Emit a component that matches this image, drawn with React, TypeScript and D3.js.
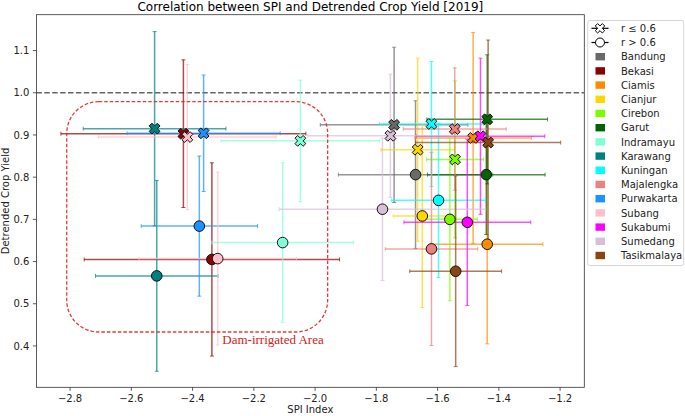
import React from "react";
import * as d3 from "d3";

const regions = ["Bandung", "Bekasi", "Ciamis", "Cianjur", "Cirebon", "Garut", "Indramayu", "Karawang", "Kuningan", "Majalengka", "Purwakarta", "Subang", "Sukabumi", "Sumedang", "Tasikmalaya"];
const regionColors = ["#696969", "#8b0000", "#ff8c00", "#ffd700", "#7cfc00", "#006400", "#7fffd4", "#008080", "#00ffff", "#f08080", "#1e90ff", "#ffc0cb", "#ff00ff", "#d8bfd8", "#8b4513"];

// r <= 0.6 points (X markers)
const lowX = [-1.742, -2.430, -1.484, -1.665, -1.543, -1.438, -2.048, -2.524, -1.620, -1.544, -2.364, -2.417, -1.460, -1.754, -1.435];
const lowY = [0.924, 0.903, 0.893, 0.865, 0.842, 0.937, 0.886, 0.915, 0.926, 0.914, 0.904, 0.895, 0.897, 0.898, 0.882];
const lowXErr = [0.241, 0.400, 0.190, 0.120, 0.093, 0.197, 0.259, 0.233, 0.170, 0.168, 0.250, 0.290, 0.210, 0.270, 0.237];
const lowYErr = [0.184, 0.175, 0.250, 0.217, 0.186, 0.153, 0.144, 0.230, 0.148, 0.145, 0.138, 0.172, 0.185, 0.146, 0.243];

// r > 0.6 points (circle markers)
const highX = [-1.672, -2.337, -1.438, -1.650, -1.560, -1.441, -2.106, -2.517, -1.597, -1.620, -2.378, -2.318, -1.503, -1.780, -1.541];
const highY = [0.806, 0.605, 0.641, 0.708, 0.700, 0.806, 0.645, 0.566, 0.745, 0.630, 0.684, 0.607, 0.693, 0.724, 0.577];
const highXErr = [0.252, 0.417, 0.182, 0.095, 0.090, 0.192, 0.231, 0.200, 0.154, 0.151, 0.190, 0.257, 0.207, 0.337, 0.150];
const highYErr = [0.175, 0.229, 0.236, 0.217, 0.193, 0.142, 0.189, 0.226, 0.183, 0.229, 0.166, 0.205, 0.197, 0.169, 0.226];

const xTicks = [-2.8, -2.6, -2.4, -2.2, -2.0, -1.8, -1.6, -1.4, -1.2];
const yTicks = [0.4, 0.5, 0.6, 0.7, 0.8, 0.9, 1.0, 1.1];

const title = "Correlation between SPI and Detrended Crop Yield [2019]";
const xLabel = "SPI Index";
const yLabel = "Detrended Crop Yield";
const legendMarkerLabels = ["r \u2264 0.6", "r > 0.6"];
const boxLabel = "Dam-irrigated Area";
const boxX = [-2.811, -1.959];
const boxY = [0.433, 0.979];
const boxLabelPos = [-2.303, 0.405];
const refLine = 1.0;

const X_DOMAIN = [-2.91, -1.121];
const Y_DOMAIN = [0.302, 1.185];
const PLOT = { left: 36.4, right: 584.3, top: 14.7, bottom: 387.3 };
const FONT = "DejaVu Sans, sans-serif";

function xPath(s: number) {
  const pts = [[-1, -3], [-1, -1], [-3, -1], [-3, 1], [-1, 1], [-1, 3], [1, 3], [1, 1], [3, 1], [3, -1], [1, -1], [1, -3]];
  const c = Math.cos(Math.PI / 4), sn = Math.sin(Math.PI / 4);
  const p = d3.path();
  pts.forEach(([a, b], i) => {
    const x = (a * c - b * sn) * s / 6;
    const y = (a * sn + b * c) * s / 6;
    if (i === 0) p.moveTo(x, y); else p.lineTo(x, y);
  });
  p.closePath();
  return p.toString();
}

export default function App() {
  const xs = d3.scaleLinear().domain(X_DOMAIN).range([PLOT.left, PLOT.right]);
  const ys = d3.scaleLinear().domain(Y_DOMAIN).range([PLOT.bottom, PLOT.top]);
  const fmt = d3.format(".1f");
  const cap = 2;
  const markerX = xPath(11.5);
  const legendX = xPath(10);

  const errBars = (px: number, py: number, ex: number, ey: number, color: string, key: string) => {
    const cx = xs(px), cy = ys(py);
    const x0 = xs(px - ex), x1 = xs(px + ex);
    const y0 = ys(py - ey), y1 = ys(py + ey);
    return (
      <g key={key} stroke={color} strokeOpacity={0.7} strokeWidth={1.5} fill="none">
        <line x1={x0} x2={x1} y1={cy} y2={cy} />
        <line x1={cx} x2={cx} y1={y0} y2={y1} />
        <line x1={x0} x2={x0} y1={cy - cap} y2={cy + cap} strokeWidth={1} />
        <line x1={x1} x2={x1} y1={cy - cap} y2={cy + cap} strokeWidth={1} />
        <line x1={cx - cap} x2={cx + cap} y1={y0} y2={y0} strokeWidth={1} />
        <line x1={cx - cap} x2={cx + cap} y1={y1} y2={y1} strokeWidth={1} />
      </g>
    );
  };

  const legTop = 28.3;
  const legStep = 14.2;

  return (
    <div style={{ position: "fixed", left: 0, top: 0 }}>
      <svg width={685} height={416} style={{ display: "block", background: "white" }}>
        <defs>
          <clipPath id="plotclip">
            <rect x={PLOT.left} y={PLOT.top} width={PLOT.right - PLOT.left} height={PLOT.bottom - PLOT.top} />
          </clipPath>
        </defs>
        <text x={(PLOT.left + PLOT.right) / 2} y={10.5} textAnchor="middle" fontFamily={FONT} fontSize={12}>{title}</text>
        <g clipPath="url(#plotclip)">
          <line x1={PLOT.left} x2={PLOT.right} y1={ys(refLine)} y2={ys(refLine)} stroke="#666" strokeWidth={1.5} strokeDasharray="5.5,2.4" />
          {regions.map((r, i) => (
            <g key={r}>
              {errBars(lowX[i], lowY[i], lowXErr[i], lowYErr[i], regionColors[i], "l")}
              {errBars(highX[i], highY[i], highXErr[i], highYErr[i], regionColors[i], "h")}
            </g>
          ))}
          <rect x={xs(boxX[0])} y={ys(boxY[1])} width={xs(boxX[1]) - xs(boxX[0])} height={ys(boxY[0]) - ys(boxY[1])}
            rx={32} ry={32} fill="none" stroke="#e8241f" strokeOpacity={0.9} strokeWidth={1.3} strokeDasharray="3.5,2" />
          {regions.map((r, i) => (
            <g key={r + "m"}>
              <path d={markerX} transform={`translate(${xs(lowX[i])},${ys(lowY[i])})`} fill={regionColors[i]} stroke="#111" strokeWidth={1} />
              <circle cx={xs(highX[i])} cy={ys(highY[i])} r={5.3} fill={regionColors[i]} stroke="#111" strokeWidth={1} />
            </g>
          ))}
          <text x={xs(boxLabelPos[0])} y={ys(boxLabelPos[1])} fontFamily="Liberation Serif, Times New Roman, serif" fontSize={13} fill="#d62020">{boxLabel}</text>
        </g>
        <rect x={PLOT.left} y={PLOT.top} width={PLOT.right - PLOT.left} height={PLOT.bottom - PLOT.top} fill="none" stroke="#333" strokeWidth={0.8} />
        {xTicks.map((t) => (
          <g key={"xt" + t}>
            <line x1={xs(t)} x2={xs(t)} y1={PLOT.bottom} y2={PLOT.bottom + 3.5} stroke="#333" strokeWidth={0.8} />
            <text x={xs(t)} y={PLOT.bottom + 14.5} textAnchor="middle" fontFamily={FONT} fontSize={10} fill="#222">{fmt(t)}</text>
          </g>
        ))}
        {yTicks.map((t) => (
          <g key={"yt" + t}>
            <line x1={PLOT.left - 3.5} x2={PLOT.left} y1={ys(t)} y2={ys(t)} stroke="#333" strokeWidth={0.8} />
            <text x={PLOT.left - 7} y={ys(t) + 3.6} textAnchor="end" fontFamily={FONT} fontSize={10} fill="#222">{fmt(t)}</text>
          </g>
        ))}
        <text x={(PLOT.left + PLOT.right) / 2} y={413} textAnchor="middle" fontFamily={FONT} fontSize={10} fill="#222">{xLabel}</text>
        <text transform={`translate(8.5,${(PLOT.top + PLOT.bottom) / 2}) rotate(-90)`} textAnchor="middle" fontFamily={FONT} fontSize={10} fill="#222">{yLabel}</text>
        <g>
          <rect x={587.7} y={20.5} width={96} height={245} rx={2} fill="white" fillOpacity={0.8} stroke="#ccc" strokeWidth={0.8} />
          {legendMarkerLabels.map((lab, i) => {
            const y = legTop + i * legStep;
            return (
              <g key={lab}>
                <line x1={591.5} x2={608.5} y1={y} y2={y} stroke="black" strokeWidth={1.2} />
                {i === 0 ? (
                  <path d={legendX} transform={`translate(600,${y})`} fill="white" stroke="black" strokeWidth={1} />
                ) : (
                  <circle cx={600} cy={y} r={4.5} fill="white" stroke="black" strokeWidth={1} />
                )}
                <text x={621} y={y + 3.6} fontFamily={FONT} fontSize={10} fill="#222">{lab}</text>
              </g>
            );
          })}
          {regions.map((r, i) => {
            const y = legTop + (i + 2) * legStep;
            return (
              <g key={"lg" + r}>
                <rect x={595.5} y={y - 3.7} width={9.5} height={7.4} fill={regionColors[i]} />
                <text x={621} y={y + 3.6} fontFamily={FONT} fontSize={10} fill="#222">{r}</text>
              </g>
            );
          })}
        </g>
      </svg>
    </div>
  );
}
